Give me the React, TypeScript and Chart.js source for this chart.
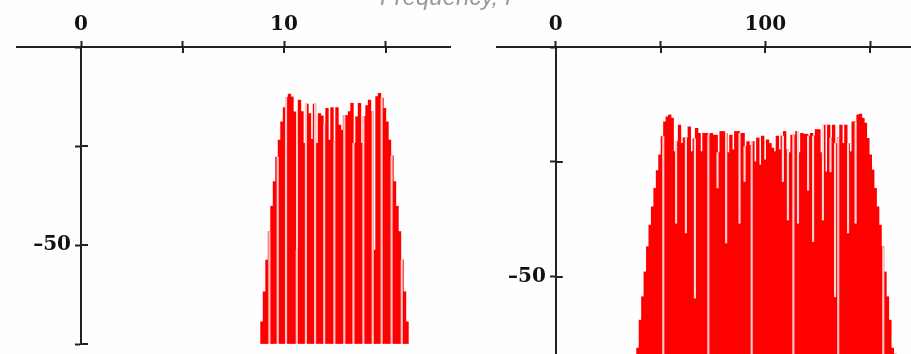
import React, { useEffect, useRef } from 'react';
import { Chart, registerables } from 'chart.js';

Chart.register(...registerables);

// ---------- data ----------
const titleText = 'Frequency, f';

// left panel: narrow-band spectrum (dB)
const leftFreqStart = 8.914;
const leftFreqStep = 0.1232;
const leftLevels = [
  -69.4, -61.8, -53.8, -46.6, -40.2, -34.0, -27.8, -23.5, -18.9, -15.3,
  -12.7, -11.9, -12.6, -16.4, -51.3, -13.4, -16.3, -24.3, -14.4, -16.8,
  -23.3, -14.4, -24.3, -16.8, -17.4, -19.7, -15.5, -23.5, -15.3, -23.9,
  -15.3, -19.7, -21.0, -17.3, -17.3, -16.3, -14.2, -24.3, -17.6, -14.2,
  -24.3, -17.6, -14.8, -13.4, -16.3, -51.3, -12.5, -11.7, -12.9, -15.5,
  -18.9, -23.5, -27.5, -34.0, -40.2, -46.6, -53.8, -61.8, -69.4,
];
const leftNulls = [9.28, 9.69, 10.1, 10.63, 11.08, 11.53, 11.98, 12.48, 12.97, 13.42, 13.91, 14.37, 14.81, 15.3, 15.8];
const leftNotchFreqs: number[] = [];
const leftNotchLevels: number[] = [];
const leftXTicks = [0, 5, 10, 15];
const leftXLabels = ['0', '', '10', ''];
const leftYTicks = [-75, -50, -25, 0];
const leftYLabels = ['', '\u201350', '', ''];

// right panel: wide-band spectrum (dB)
const rightFreqStart = 39.2;
const rightFreqStep = 1.1675;
const rightLevels = [
  -65.6, -59.5, -54.4, -49.0, -43.5, -38.8, -34.8, -30.8, -26.9, -23.5,
  -19.5, -16.3, -15.2, -14.8, -15.5, -22.8, -20.6, -17.0, -21.0, -19.8,
  -19.8, -17.4, -22.8, -20.0, -17.7, -18.8, -22.8, -18.8, -18.8, -19.2,
  -18.8, -19.2, -19.2, -23.0, -18.4, -18.4, -18.8, -23.0, -19.2, -22.4,
  -18.4, -18.4, -18.8, -18.8, -21.7, -20.6, -21.4, -20.6, -25.0, -19.8,
  -25.7, -19.4, -24.6, -20.2, -21.0, -22.0, -22.8, -19.4, -22.4, -19.4,
  -18.4, -22.4, -23.0, -19.2, -19.2, -18.4, -23.0, -18.8, -19.0, -19.0,
  -19.4, -18.8, -19.4, -18.0, -18.0, -23.0, -17.0, -27.2, -17.0, -19.8,
  -17.0, -21.0, -19.8, -17.0, -21.0, -17.0, -21.0, -22.8, -16.3, -16.3,
  -14.8, -14.6, -15.5, -16.6, -19.9, -23.5, -26.8, -30.8, -34.8, -38.8,
  -43.5, -49.0, -54.4, -59.5, -65.6, -70.0,
];
const rightNulls = [51.3, 72.8, 93.5, 113.4, 134.8, 156.3];
const rightNotchFreqs = [57.4, 62.1, 66.4, 77.2, 81.3, 87.7, 90.1, 108.4, 110.8, 115.6, 120.4, 122.8, 127.5, 131.1, 133.3, 139.5, 143.1];
const rightNotchLevels = [-38.4, -40.5, -54.7, -30.7, -42.7, -38.4, -29.3, -29.3, -37.7, -38.4, -31.2, -42.4, -37.7, -27.2, -54.4, -40.5, -38.4];
const rightXTicks = [0, 50, 100, 150];
const rightXLabels = ['0', '', '100', ''];
const rightYTicks = [-50, -25, 0];
const rightYLabels = ['\u201350', '', ''];

// ---------- styles ----------
const RED = '#ff0000';
const NULL_COLOR = '#ffc4c4';
const NOTCH_COLOR = '#ffd2d2';
const AXIS = '#222222';
const TICK_FONT = { family: 'DejaVu Serif', weight: 'bold' as const, size: 20 };

type Panel = {
  start: number; step: number; levels: number[];
  nulls: number[]; notchFreqs: number[]; notchLevels: number[];
  xMin: number; xMax: number; yMin: number; barPx: number;
  xTicks: number[]; xLabels: string[]; yTicks: number[]; yLabels: string[];
  padding: { left: number; right: number; top: number; bottom: number };
};

const crossTicks = {
  id: 'crossTicks',
  afterDraw(chart: any) {
    const { ctx } = chart;
    const xs = chart.scales.x;
    const ys = chart.scales.y;
    const y0 = ys.getPixelForValue(0);
    const x0 = xs.getPixelForValue(0);
    ctx.save();
    ctx.strokeStyle = AXIS;
    ctx.lineWidth = 2;
    ctx.beginPath();
    xs.ticks.forEach((t: any) => {
      const px = Math.round(xs.getPixelForValue(t.value));
      ctx.moveTo(px, y0);
      ctx.lineTo(px, y0 + 6);
    });
    ys.ticks.forEach((t: any) => {
      const py = Math.round(ys.getPixelForValue(t.value));
      ctx.moveTo(x0, py);
      ctx.lineTo(x0 + 7, py);
    });
    ctx.stroke();
    ctx.restore();
  },
};

function levelAt(p: Panel, f: number) {
  let k = Math.round((f - p.start) / p.step);
  k = Math.max(0, Math.min(p.levels.length - 1, k));
  return p.levels[k];
}

function makeConfig(p: Panel): any {
  const bars = p.levels.map((v, i) => ({ x: p.start + i * p.step, y: v }));
  const nulls = p.nulls.map((f) => ({ x: f, y: [p.yMin, levelAt(p, f)] }));
  const notches = p.notchFreqs.map((f, i) => ({ x: f, y: [p.notchLevels[i], levelAt(p, f)] }));
  return {
    type: 'bar',
    data: {
      datasets: [
        { data: bars, backgroundColor: RED, base: p.yMin, grouped: false, barThickness: p.barPx, order: 3 },
        { data: notches, backgroundColor: NOTCH_COLOR, grouped: false, barThickness: 1.5, order: 2 },
        { data: nulls, backgroundColor: NULL_COLOR, grouped: false, barThickness: 1.5, order: 1 },
      ],
    },
    options: {
      animation: false,
      responsive: false,
      maintainAspectRatio: false,
      events: [],
      layout: { padding: p.padding, autoPadding: false },
      plugins: { legend: { display: false }, tooltip: { enabled: false }, title: { display: false } },
      scales: {
        x: {
          type: 'linear',
          position: 'top',
          offset: false,
          min: p.xMin,
          max: p.xMax,
          afterFit: (s: any) => { s.height = 47; s.paddingLeft = 0; s.paddingRight = 0; },
          afterBuildTicks: (s: any) => { s.ticks = p.xTicks.map((v) => ({ value: v })); },
          ticks: {
            autoSkip: false,
            maxRotation: 0,
            padding: 4,
            color: '#111',
            font: TICK_FONT,
            callback: (v: number) => { const k = p.xTicks.indexOf(v); return k >= 0 ? p.xLabels[k] : ''; },
          },
          grid: { offset: false, drawOnChartArea: false, drawTicks: true, tickLength: 6, tickWidth: 2, tickColor: AXIS },
          border: { display: true, color: AXIS, width: 2 },
        },
        y: {
          type: 'linear',
          position: { x: 0 },
          min: p.yMin,
          max: 0,
          afterFit: (s: any) => { s.width = 0; s.paddingTop = 0; s.paddingBottom = 0; },
          afterBuildTicks: (s: any) => { s.ticks = p.yTicks.map((v) => ({ value: v })); },
          ticks: {
            autoSkip: false,
            color: '#111',
            font: TICK_FONT,
            callback: (v: number) => { const k = p.yTicks.indexOf(v); return k >= 0 && p.yLabels[k] ? p.yLabels[k] + '\u2002' : ''; },
          },
          grid: { drawOnChartArea: false, drawTicks: true, tickLength: 5, tickWidth: 2, tickColor: AXIS },
          border: { display: true, color: AXIS, width: 2 },
        },
      },
    },
    plugins: [crossTicks],
  };
}

const leftPanel: Panel = {
  start: leftFreqStart, step: leftFreqStep, levels: leftLevels,
  nulls: leftNulls, notchFreqs: leftNotchFreqs, notchLevels: leftNotchLevels,
  xMin: -3.153, xMax: 18.177, yMin: -75, barPx: 2.7,
  xTicks: leftXTicks, xLabels: leftXLabels, yTicks: leftYTicks, yLabels: leftYLabels,
  padding: { left: 17, right: 20, top: 0, bottom: 10 },
};

const rightPanel: Panel = {
  start: rightFreqStart, step: rightFreqStep, levels: rightLevels,
  nulls: rightNulls, notchFreqs: rightNotchFreqs, notchLevels: rightNotchLevels,
  xMin: -28.07, xMax: 169.54, yMin: -66.88, barPx: 2.7,
  xTicks: rightXTicks, xLabels: rightXLabels, yTicks: rightYTicks, yLabels: rightYLabels,
  padding: { left: 27, right: 0, top: 0, bottom: 0 },
};

function PanelChart({ panel, left, width }: { panel: Panel; left: number; width: number }) {
  const ref = useRef<HTMLCanvasElement>(null);
  useEffect(() => {
    if (!ref.current) return;
    const chart = new Chart(ref.current, makeConfig(panel));
    return () => chart.destroy();
  }, [panel]);
  return (
    <canvas
      ref={ref}
      width={width}
      height={354}
      style={{ position: 'absolute', left, top: 0, width, height: 354 }}
    />
  );
}

export default function App() {
  return (
    <div style={{ position: 'absolute', left: 0, top: 0, width: 911, height: 354, overflow: 'hidden', background: '#fefefe' }}>
      <PanelChart panel={leftPanel} left={0} width={470} />
      <PanelChart panel={rightPanel} left={470} width={441} />
      <div
        style={{
          position: 'absolute', left: 380, top: -15, whiteSpace: 'nowrap',
          font: 'italic 24px "Liberation Sans", Arial, sans-serif', lineHeight: '24px', color: '#9a9a9a',
        }}
      >
        {titleText}
      </div>
    </div>
  );
}
